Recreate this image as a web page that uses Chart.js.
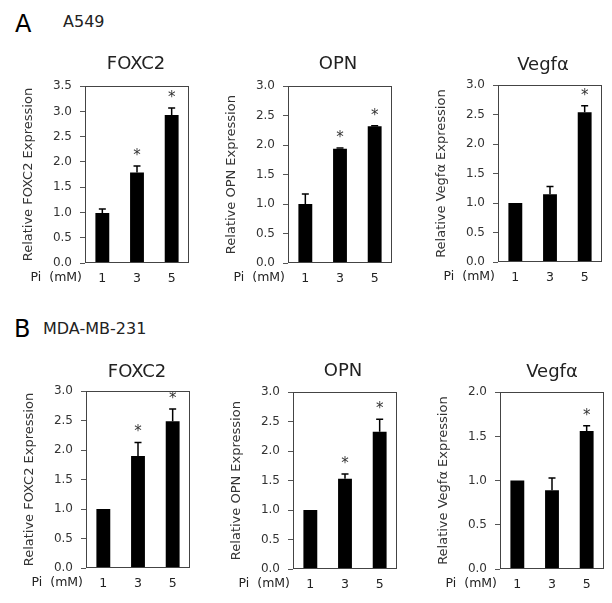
<!DOCTYPE html>
<html>
<head>
<meta charset="utf-8">
<script src="https://cdn.jsdelivr.net/npm/chart.js@4.4.1/dist/chart.umd.min.js"></script>
<style>
  html, body { margin: 0; padding: 0; background: #fff; }
  body { width: 612px; height: 603px; position: relative; overflow: hidden; font-family: "DejaVu Sans", sans-serif; color: #222; }
  canvas { position: absolute; }
  .lbl { position: absolute; line-height: 1; white-space: pre; transform: translateY(-50%); }
  .ctr { transform: translate(-50%, -50%); }
  .rgt { transform: translate(-100%, -50%); }
</style>
</head>
<body>
<div class="lbl" style="left:15px;top:23.5px;font-size:24px;color:#000">A</div>
<div class="lbl" style="left:63px;top:22px;font-size:16px">A549</div>
<div class="lbl" style="left:14px;top:329px;font-size:24px;color:#000">B</div>
<div class="lbl" style="left:43px;top:329px;font-size:16px">MDA-MB-231</div>
<script>
// Pi dose categories (mM)
const doses = ["1", "3", "5"];

// A549
const a549Foxc2 = [0.99, 1.79, 2.93];
const a549Foxc2Err = [0.08, 0.13, 0.14];
const a549Foxc2Sig = [false, true, true];

const a549Opn = [1.0, 1.94, 2.32];
const a549OpnErr = [0.17, 0.01, 0.01];
const a549OpnSig = [false, true, true];

const a549Vegf = [1.0, 1.15, 2.54];
const a549VegfErr = [0, 0.13, 0.11];
const a549VegfSig = [false, false, true];

// MDA-MB-231
const mdaFoxc2 = [1.0, 1.9, 2.49];
const mdaFoxc2Err = [0, 0.23, 0.21];
const mdaFoxc2Sig = [false, true, true];

const mdaOpn = [1.0, 1.53, 2.33];
const mdaOpnErr = [0, 0.08, 0.21];
const mdaOpnSig = [false, true, true];

const mdaVegf = [1.0, 0.89, 1.56];
const mdaVegfErr = [0, 0.14, 0.06];
const mdaVegfSig = [false, false, true];

const FONT = "DejaVu Sans";
const PLOT_W = 104;
const PLOT_H = 184;
const Y_AXIS_W = 64;
const X_AXIS_H = 25;
const PAD_TOP = 8;
const PAD_RIGHT = 4;

const panels = [
  { gene: "FOXC2", values: a549Foxc2, errors: a549Foxc2Err, sig: a549Foxc2Sig, yMax: 3.5, left: 85, top: 79, titleX: 136, titleY: 62.5 },
  { gene: "OPN", values: a549Opn, errors: a549OpnErr, sig: a549OpnSig, yMax: 3.0, left: 288, top: 79, titleX: 338, titleY: 62.5 },
  { gene: "Vegfα", values: a549Vegf, errors: a549VegfErr, sig: a549VegfSig, yMax: 3.0, left: 498, top: 78, titleX: 543, titleY: 64 },
  { gene: "FOXC2", values: mdaFoxc2, errors: mdaFoxc2Err, sig: mdaFoxc2Sig, yMax: 3.0, left: 86, top: 384, titleX: 137, titleY: 371 },
  { gene: "OPN", values: mdaOpn, errors: mdaOpnErr, sig: mdaOpnSig, yMax: 3.0, left: 293, top: 385, titleX: 343, titleY: 370 },
  { gene: "Vegfα", values: mdaVegf, errors: mdaVegfErr, sig: mdaVegfSig, yMax: 2.0, left: 500, top: 385, titleX: 552, titleY: 371 }
];

// box around plot, error bars (upper only) and significance stars
const errorBars = {
  id: "errorBars",
  afterDatasetsDraw(chart) {
    const { ctx, chartArea } = chart;
    const yScale = chart.scales.y;
    const ds = chart.data.datasets[0];
    const meta = chart.getDatasetMeta(0);
    ctx.save();
    ctx.strokeStyle = "#000";
    ctx.lineWidth = 1.5;
    meta.data.forEach((bar, i) => {
      const err = ds.errors[i];
      const barTop = yScale.getPixelForValue(ds.data[i]);
      const errTop = yScale.getPixelForValue(ds.data[i] + err);
      if (err > 0) {
        ctx.beginPath();
        ctx.moveTo(bar.x, barTop);
        ctx.lineTo(bar.x, errTop);
        ctx.moveTo(bar.x - 3.5, errTop);
        ctx.lineTo(bar.x + 3.5, errTop);
        ctx.stroke();
      }
      if (ds.sig[i]) {
        ctx.fillStyle = "#333";
        ctx.font = "15px " + FONT;
        ctx.textAlign = "center";
        ctx.textBaseline = "alphabetic";
        ctx.fillText("*", bar.x, errTop - 6);
      }
    });
    ctx.strokeStyle = "#444";
    ctx.lineWidth = 1;
    ctx.strokeRect(Math.round(chartArea.left) + 0.5, Math.round(chartArea.top) + 0.5,
      Math.round(chartArea.width) - 1, Math.round(chartArea.height) - 1);
    ctx.restore();
  }
};

function addLabel(text, x, y, size, cls) {
  const d = document.createElement("div");
  d.className = "lbl " + cls;
  d.style.left = x + "px";
  d.style.top = y + "px";
  d.style.fontSize = size + "px";
  d.textContent = text;
  document.body.appendChild(d);
}

panels.forEach((p) => {
  const canvas = document.createElement("canvas");
  const w = Y_AXIS_W + PLOT_W + PAD_RIGHT;
  const h = PAD_TOP + PLOT_H + X_AXIS_H;
  canvas.width = w;
  canvas.height = h;
  canvas.style.width = w + "px";
  canvas.style.height = h + "px";
  canvas.style.left = (p.left - Y_AXIS_W) + "px";
  canvas.style.top = (p.top - PAD_TOP) + "px";
  document.body.appendChild(canvas);

  addLabel(p.gene, p.titleX, p.titleY, 18, "ctr");
  addLabel("Pi  (mM)", p.left - 3, p.top + PLOT_H + 14, 12.5, "rgt");

  new Chart(canvas, {
    type: "bar",
    data: {
      labels: doses,
      datasets: [{
        data: p.values,
        errors: p.errors,
        sig: p.sig,
        backgroundColor: "#000",
        barPercentage: 0.4,
        categoryPercentage: 1
      }]
    },
    options: {
      responsive: false,
      animation: false,
      devicePixelRatio: 1,
      layout: { padding: { top: PAD_TOP, right: PAD_RIGHT, left: 0, bottom: 0 } },
      plugins: { legend: { display: false }, tooltip: { enabled: false } },
      scales: {
        x: {
          grid: { display: false },
          border: { display: false },
          ticks: { color: "#222", font: { family: FONT, size: 12.5 }, padding: 0 },
          afterFit: (s) => { s.height = X_AXIS_H; }
        },
        y: {
          min: 0,
          max: p.yMax,
          ticks: {
            stepSize: 0.5,
            callback: (v) => Number(v).toFixed(1),
            color: "#333",
            font: { family: FONT, size: 12 },
            padding: 8
          },
          grid: { drawOnChartArea: false, drawTicks: true, tickLength: 5, color: "#555" },
          border: { display: false },
          title: {
            display: true,
            text: "Relative " + p.gene + " Expression",
            color: "#333",
            font: { family: FONT, size: 13 },
            padding: 0
          },
          afterFit: (s) => { s.width = Y_AXIS_W; }
        }
      }
    },
    plugins: [errorBars]
  });
});
</script>
</body>
</html>
